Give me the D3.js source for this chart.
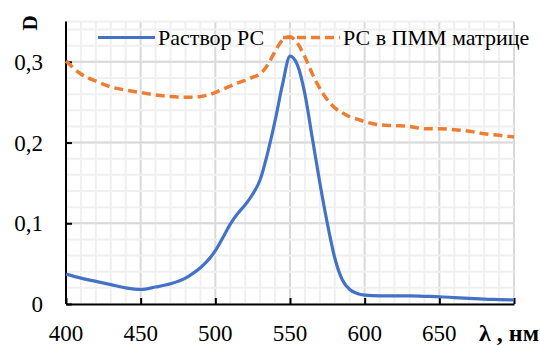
<!DOCTYPE html>
<html>
<head>
<meta charset="utf-8">
<script src="https://cdn.jsdelivr.net/npm/d3@7"></script>
<style>
	body { margin: 0; background: #fff; }
	svg { display: block; }
	svg text { font-family: "Liberation Serif", "DejaVu Serif", serif; }
</style>
</head>
<body>
<svg width="540" height="345"></svg>
<script>
// wavelengths, nm
var wavelength = [400, 410, 420, 430, 440, 450, 460, 470, 480, 485, 490, 495, 500, 505, 510, 515, 520, 525, 530, 535, 540, 545, 550, 555, 560, 565, 570, 575, 580, 585, 590, 595, 600, 610, 620, 630, 640, 650, 660, 670, 680, 690, 700];

// D, solution
var solution = [0.037, 0.032, 0.028, 0.024, 0.020, 0.018, 0.021, 0.025, 0.032, 0.038, 0.045, 0.054, 0.066, 0.082, 0.099, 0.112, 0.123, 0.136, 0.154, 0.187, 0.227, 0.272, 0.307, 0.296, 0.260, 0.205, 0.150, 0.100, 0.057, 0.030, 0.018, 0.013, 0.011, 0.010, 0.010, 0.010, 0.0095, 0.009, 0.008, 0.007, 0.006, 0.0055, 0.005];

// D, in PMM matrix
var matrix = [0.301, 0.285, 0.276, 0.269, 0.265, 0.262, 0.259, 0.257, 0.256, 0.256, 0.257, 0.259, 0.262, 0.266, 0.270, 0.274, 0.277, 0.281, 0.285, 0.296, 0.313, 0.327, 0.331, 0.323, 0.306, 0.285, 0.267, 0.253, 0.243, 0.237, 0.232, 0.229, 0.226, 0.222, 0.221, 0.220, 0.217, 0.217, 0.216, 0.214, 0.211, 0.209, 0.207];

var seriesNames = ['Раствор РС', 'РС в ПММ матрице'];
var xTicks = [400, 450, 500, 550, 600, 650];
var yTicks = [0, 0.1, 0.2, 0.3];

var chart = {
	left: 66,
	right: 514,
	top: 21.5,
	bottom: 304
};

chart.make = function(){

	var svg = d3.select('svg');

	var x = d3.scaleLinear().domain([400, 700]).range([chart.left, chart.right]);
	var y = d3.scaleLinear().domain([0, 0.35]).range([chart.bottom, chart.top]);

	//grid
	var g = svg.append('g');
	g.selectAll('line.v')
		.data(d3.range(400, 701, 10))
		.enter().append('line')
		.attr('x1', d => x(d)).attr('x2', d => x(d))
		.attr('y1', y(0)).attr('y2', y(0.35))
		.attr('stroke', d => d % 50 == 0 ? '#d9d9d9' : '#f0f0f0')
		.attr('stroke-width', 2);

	g.selectAll('line.h')
		.data(d3.range(0, 0.351, 0.02).concat([0.35]))
		.enter().append('line')
		.attr('x1', x(400)).attr('x2', x(700))
		.attr('y1', d => y(d)).attr('y2', d => y(d))
		.attr('stroke', '#f0f0f0')
		.attr('stroke-width', 2);

	g.selectAll('line.hmaj')
		.data([0.1, 0.2, 0.3])
		.enter().append('line')
		.attr('x1', x(400)).attr('x2', x(700))
		.attr('y1', d => y(d)).attr('y2', d => y(d))
		.attr('stroke', '#d9d9d9')
		.attr('stroke-width', 2);

	//axes
	svg.append('g')
		.attr('transform', 'translate(0,' + y(0) + ')')
		.call(d3.axisBottom(x).tickValues(xTicks.concat([700])).tickSizeInner(-6).tickSizeOuter(0).tickFormat(''));
	var yAxis = svg.append('g')
		.attr('transform', 'translate(' + x(400) + ',0)')
		.call(d3.axisLeft(y).tickValues(yTicks).tickSizeInner(-6).tickSizeOuter(0).tickFormat(''));

	svg.selectAll('.domain, .tick line')
		.attr('stroke', '#000')
		.attr('stroke-width', 2);
	yAxis.select('.domain').attr('d', 'M0,' + y(0) + 'V' + y(0.35));

	//tick labels
	svg.append('g').selectAll('text')
		.data(xTicks)
		.enter().append('text')
		.attr('x', d => x(d))
		.attr('y', 341)
		.attr('text-anchor', 'middle')
		.attr('font-size', 23)
		.text(d => d);

	svg.append('g').selectAll('text')
		.data(yTicks)
		.enter().append('text')
		.attr('x', 43)
		.attr('y', d => y(d))
		.attr('dy', '0.35em')
		.attr('text-anchor', 'end')
		.attr('font-size', 23)
		.text(d => d === 0 ? '0' : d3.format('.1f')(d).replace('.', ','));

	svg.append('text')
		.attr('x', 539).attr('y', 341)
		.attr('text-anchor', 'end')
		.attr('font-size', 24)
		.attr('font-weight', 'bold')
		.text('λ , нм');

	svg.append('text')
		.attr('transform', 'translate(37,23) rotate(-90)')
		.attr('text-anchor', 'middle')
		.attr('font-size', 21)
		.attr('font-weight', 'bold')
		.text('D');

	//lines
	var line = function(vals){
		return d3.line()
			.x((d, i) => x(wavelength[i]))
			.y(d => y(d))
			.curve(d3.curveMonotoneX)(vals);
	};

	svg.append('path')
		.attr('d', line(matrix))
		.attr('fill', 'none')
		.attr('stroke', '#ED7D31')
		.attr('stroke-width', 3.5)
		.attr('stroke-dasharray', '9,5');

	svg.append('path')
		.attr('d', line(solution))
		.attr('fill', 'none')
		.attr('stroke', '#4472C4')
		.attr('stroke-width', 3.2);

	//legend
	var legend = svg.append('g');
	legend.append('line')
		.attr('x1', 98).attr('x2', 155).attr('y1', 37.5).attr('y2', 37.5)
		.attr('stroke', '#4472C4').attr('stroke-width', 3.2);
	legend.append('text')
		.attr('x', 158).attr('y', 45)
		.attr('font-size', 22)
		.text(seriesNames[0]);
	legend.append('line')
		.attr('x1', 283).attr('x2', 340).attr('y1', 37.5).attr('y2', 37.5)
		.attr('stroke', '#ED7D31').attr('stroke-width', 3.5)
		.attr('stroke-dasharray', '9,5');
	legend.append('text')
		.attr('x', 343).attr('y', 45)
		.attr('font-size', 22)
		.text(seriesNames[1]);
};

chart.make();
</script>
</body>
</html>
